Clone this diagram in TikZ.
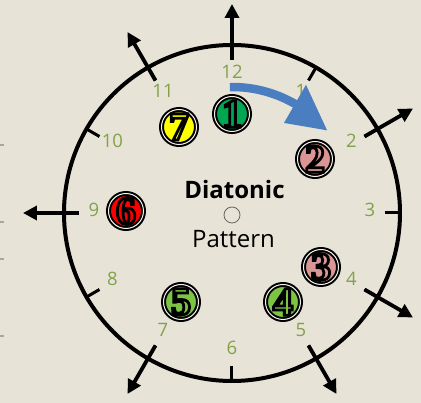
\documentclass[tikz,border=0pt]{standalone}
\usepackage{fontspec}
\setmainfont{Open Sans}
\newfontfamily\digb{Liberation Serif Bold}[FakeBold=7]
\usetikzlibrary{arrows.meta,calc}
\definecolor{bg}{RGB}{231,227,214}
\definecolor{hourcol}{RGB}{130,162,74}
\definecolor{arrowblue}{RGB}{74,126,193}
\definecolor{cone}{RGB}{0,166,81}
\definecolor{cseven}{RGB}{255,255,0}
\definecolor{cpink}{RGB}{217,150,148}
\definecolor{cred}{RGB}{255,0,0}
\definecolor{clime}{RGB}{124,196,68}
% digit filled with the badge colour, outlined (stroked) in black
\newcommand\badgedigit[2]{\textcolor{#1}{\special{pdf:literal direct 0 0 0 RG}\digb #2}}
\tikzset{
  dial/.style={circle, draw=black, line width=4pt, minimum size=336pt, inner sep=0pt},
  ticksty/.style={line width=3pt, draw=black},
  ray/.style={line width=3.8pt, draw=black, -{Triangle[length=14pt,width=14pt]}},
  hour/.style={text=hourcol, font=\fontsize{18.5}{18.5}\selectfont, inner sep=0pt},
  badge/.style={circle, draw=black, line width=2pt, double=white!60!bg, double distance=1pt,
    fill=#1, minimum size=35pt, inner sep=0pt, font=\fontsize{40}{40}\selectfont},
  hub/.style={circle, draw=gray!80!black, line width=0.8pt, minimum size=16pt, inner sep=0pt},
}
\begin{document}
\begin{tikzpicture}[x=1pt,y=1pt]
\fill[bg] (-232,-190) rectangle (189,213);
\useasboundingbox (-232,-190) rectangle (189,213);
% left edge marks
\foreach \yy in {68,-9,-46,-123} \fill[gray!70] (-232,\yy-1) rectangle (-228,\yy+1);
\node[dial] (dialc) at (0,0) {};
% ticks
\foreach \h in {1,...,12} \draw[ticksty] ({90-30*\h}:153) -- ({90-30*\h}:168);
% rays
\foreach \h in {12,2,4,5,7,9,11} {
  \coordinate (rs\h) at ({90-30*\h}:153);
  \coordinate (re\h) at ({90-30*\h}:209);
  \draw[ray] (rs\h) -- (re\h);
}
% hour labels
\foreach \h in {1,...,12} \node[hour] (h\h) at ($(0,3)+({90-30*\h}:138)$) {\h};
% blue arrow
\draw[line width=8.5pt, arrowblue] (91:126) arc[start angle=91, end angle=58, radius=126];
\fill[arrowblue] (60:104) -- (41:126) -- (60:148) -- cycle;
% centre
\node[hub] (hubc) at (0,-2) {};
\node[font=\bfseries\fontsize{24}{24}\selectfont, anchor=base, inner sep=0pt] (dia) at (2.5,14) {Diatonic};
\node[font=\fontsize{24}{24}\selectfont, anchor=base, inner sep=0pt] (pat) at (1.5,-35) {Pattern};
% badges
\node[badge=cone] (b1) at (0,99) {\badgedigit{cone}{1}};
\node[badge=cpink] (b2) at (83,54) {\badgedigit{cpink}{2}};
\node[badge=cpink] (b3) at (89,-54) {\badgedigit{cpink}{3}};
\node[badge=clime] (b4) at (51,-89) {\badgedigit{clime}{4}};
\node[badge=clime] (b5) at (-51,-89) {\badgedigit{clime}{5}};
\node[badge=cred] (b6) at (-106,2) {\badgedigit{cred}{6}};
\node[badge=cseven] (b7) at (-53,86) {\badgedigit{cseven}{7}};
\end{tikzpicture}
\end{document}
